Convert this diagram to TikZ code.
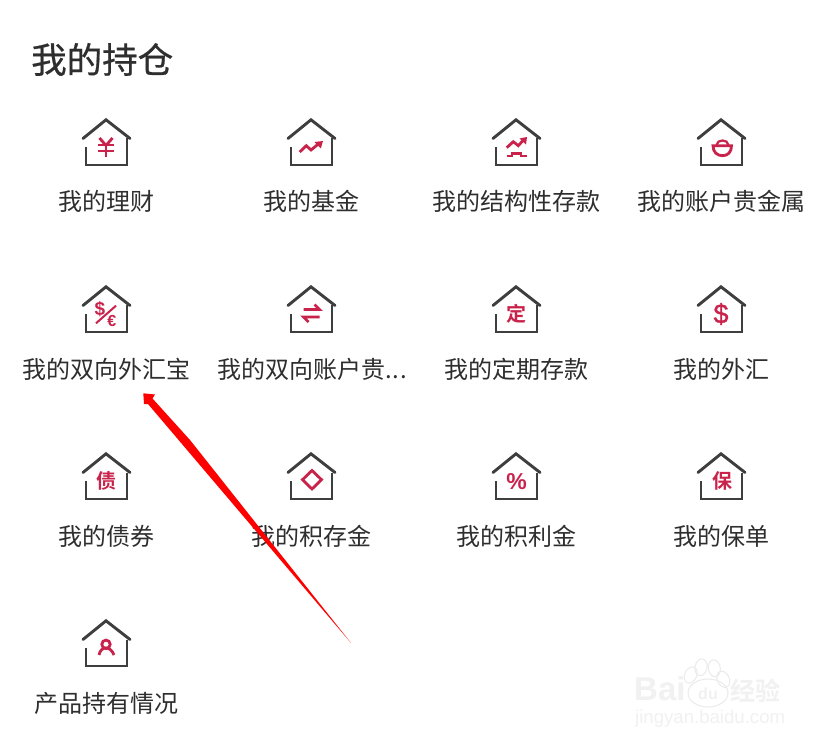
\documentclass[tikz,border=0pt]{standalone}
\usepackage{fontspec}
\setmainfont{Noto Sans CJK SC}
\newfontfamily\titlef[FakeBold=0.6]{Noto Sans CJK SC}
\newfontfamily\boldcjk{Noto Sans CJK SC Bold}
\newfontfamily\latinb{Liberation Sans Bold}
\newfontfamily\latinm[FakeBold=1.2]{Liberation Sans}
\newfontfamily\latinr{Liberation Sans}
\definecolor{ink}{HTML}{2E2E2E}
\definecolor{wall}{HTML}{3E3E3E}
\definecolor{rosered}{HTML}{C9234C}
\definecolor{arrowred}{HTML}{FE0000}
\definecolor{wm}{HTML}{F1F1F1}
\definecolor{wmline}{HTML}{EBEBEB}
\tikzset{
  x=1pt,y=-1pt,
  lab/.style={anchor=base,inner sep=0pt,text=ink,font=\fontsize{24}{24}\selectfont},
  ttl/.style={anchor=base west,inner sep=0pt,text=ink,font=\titlef\fontsize{35.5}{35.5}\selectfont},
  ic/.style={draw=rosered,line width=2.8pt,line cap=butt,line join=miter},
  ict/.style={inner sep=0pt,text=rosered},
  homeframe/.pic={
    \draw[wall,line width=2.9pt,line cap=round,line join=miter] (-23,19.5)--(0,0.8)--(24,19.5);
    \draw[wall,line width=2.9pt,line cap=butt,line join=miter] (-20,28)--(-20,46)--(21,46)--(21,19.5);
  },
  iyen/.pic={
    \draw[ic] (-6.5,19)--(0,26.5)--(6.5,19);
    \draw[ic] (-8,26)--(8,26) (-8,32)--(8,32) (0,26)--(0,38.5);
  },
  ifund/.pic={
    \draw[ic] (-11.3,33)--(-4.7,26.7)--(0,31)--(8,24.5);
    \fill[rosered] (3.5,23)--(12,22)--(9.8,29.5)--cycle;
  },
  istruct/.pic={
    \draw[ic] (-9.3,28.7)--(-2.7,22.7)--(2.3,26.7)--(7.5,21);
    \fill[rosered] (3.5,19.5)--(11,18)--(10,25.5)--cycle;
    \draw[ic] (-9.5,37)--(-4,37)--(-4,34.5)--(5,34.5)--(5,37)--(10.5,37);
  },
  igold/.pic={
    \draw[ic] (-8,26.7)--(10.5,26.7) .. controls (10.5,33) and (7,36.7) .. (1.5,36.7) .. controls (-4,36.7) and (-8,33) .. (-8,26.7)--cycle;
    \draw[ic,line width=2.2pt] (-4.5,26) .. controls (-4,20) and (7,20) .. (7.5,26);
  },
  iswap/.pic={
    \draw[ic] (-7.5,23.5)--(8.5,23.5)--(3.5,18.5);
    \draw[ic] (8.5,31)--(-7.5,31)--(-2.5,36);
  },
  idollareuro/.pic={
    \draw[draw=rosered,line width=2pt] (-10,37.3)--(10,19.7);
    \node[ict,font=\latinb\fontsize{19}{19}\selectfont] (dl) at (-6,23) {\$};
    \node[ict,font=\latinb\fontsize{16}{16}\selectfont] (eu) at (5.7,34.5) {€};
  },
  idollar/.pic={
    \node[ict,font=\latinm\fontsize{27}{27}\selectfont] (bd) at (0,28) {\$};
  },
  iding/.pic={
    \node[ict,font=\boldcjk\fontsize{20}{20}\selectfont] (dg) at (0.7,28) {定};
  },
  izhai/.pic={
    \node[ict,font=\boldcjk\fontsize{20}{20}\selectfont] (zh) at (0,28.3) {债};
  },
  ibao/.pic={
    \node[ict,font=\boldcjk\fontsize{20}{20}\selectfont] (ba) at (1,28.3) {保};
  },
  ipct/.pic={
    \node[ict,font=\latinb\fontsize{23}{23}\selectfont] (pc) at (0.7,29) {\%};
  },
  idiamond/.pic={
    \draw[ic] (1,17.5)--(10.5,26.7)--(1,36)--(-8.5,26.7)--cycle;
  },
  iperson/.pic={
    \draw[ic] (0,24.3) circle (4.2);
    \draw[ic] (-7,35) .. controls (-6,30) and (-3,28) .. (0,28) .. controls (3,28) and (6,30) .. (8,35);
  },
}
\begin{document}
\begin{tikzpicture}
\useasboundingbox (0,0) rectangle (828,746);
\fill[white] (0,0) rectangle (828,746);

% watermark
\begin{scope}[draw=wmline,line width=1pt]
  \draw[rotate around={-25:(690.7,675)}] (690.7,675) ellipse (6 and 8.5);
  \draw[rotate around={-10:(701,667.3)}] (701,667.3) ellipse (6 and 8.5);
  \draw[rotate around={10:(714.3,668.3)}] (714.3,668.3) ellipse (6 and 8.5);
  \draw[rotate around={25:(723.3,679.3)}] (723.3,679.3) ellipse (6 and 8.5);
  \draw (708,693) ellipse (20 and 14);
\end{scope}
\node[anchor=base west,inner sep=0pt,text=wm,font=\latinb\fontsize{33}{33}\selectfont] (wmbai) at (634,700) {Bai};
\node[anchor=base,inner sep=0pt,text=wm,font=\latinb\fontsize{16}{16}\selectfont] (wmdu) at (708,699) {du};
\node[anchor=base west,inner sep=0pt,text=wm,font=\boldcjk\fontsize{25}{25}\selectfont] (wmjy) at (730,700) {经验};
\node[anchor=base west,inner sep=0pt,text=wm,font=\latinr\fontsize{18.6}{18.6}\selectfont] (wmurl) at (635,723) {jingyan.baidu.com};

\node[ttl] (title) at (31,73) {我的持仓};

% row 1
\pic at (106,119) {homeframe}; \pic at (106,119) {iyen};
\pic at (311,119) {homeframe}; \pic at (311,119) {ifund};
\pic at (516,119) {homeframe}; \pic at (516,119) {istruct};
\pic at (721,119) {homeframe}; \pic at (721,119) {igold};
\node[lab] (a1) at (106.5,211) {我的理财};
\node[lab] (a2) at (311.5,211) {我的基金};
\node[lab] (a3) at (516.5,211) {我的结构性存款};
\node[lab] (a4) at (721.5,211) {我的账户贵金属};
% row 2
\pic at (106,286) {homeframe}; \pic at (106,286) {idollareuro};
\pic at (311,286) {homeframe}; \pic at (311,286) {iswap};
\pic at (516,286) {homeframe}; \pic at (516,286) {iding};
\pic at (721,286) {homeframe}; \pic at (721,286) {idollar};
\node[lab] (b1) at (106.5,378) {我的双向外汇宝};
\node[lab] (b2) at (312,378) {我的双向账户贵.\kern0.8pt.\kern0.8pt.};
\node[lab] (b3) at (516.5,378) {我的定期存款};
\node[lab] (b4) at (721.5,378) {我的外汇};
% row 3
\pic at (106,453) {homeframe}; \pic at (106,453) {izhai};
\pic at (311,453) {homeframe}; \pic at (311,453) {idiamond};
\pic at (516,453) {homeframe}; \pic at (516,453) {ipct};
\pic at (721,453) {homeframe}; \pic at (721,453) {ibao};
\node[lab] (c1) at (106.5,545) {我的债券};
\node[lab] (c2) at (311.5,545) {我的积存金};
\node[lab] (c3) at (516.5,545) {我的积利金};
\node[lab] (c4) at (721.5,545) {我的保单};
% row 4
\pic at (106,620) {homeframe}; \pic at (106,620) {iperson};
\node[lab] (d1) at (106.5,712) {产品持有情况};

% red arrow
\fill[arrowred] (143.3,393.3)--(155,394.5)--(152.5,398.5)--(190,440)--(351,643)--(148,404)--(144,404)--cycle;
\end{tikzpicture}
\end{document}
